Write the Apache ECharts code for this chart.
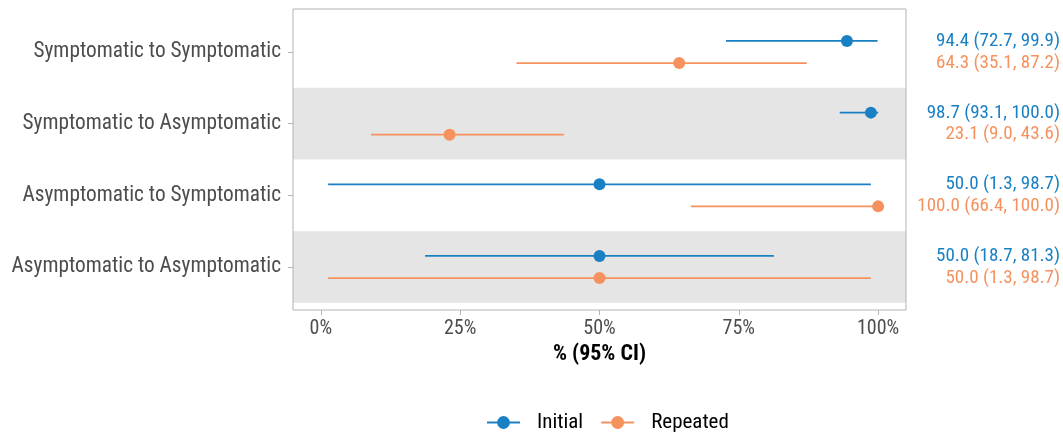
<!DOCTYPE html>
<html>
<head>
<meta charset="utf-8">
<script src="https://cdn.jsdelivr.net/npm/echarts@6/dist/echarts.min.js"></script>
<style>
  html, body { margin: 0; padding: 0; background: #fff; }
  #root { width: 1063px; height: 434px; }
</style>
</head>
<body>
<div id="root"></div>
<script>
// rows, top to bottom
const categories = ['Symptomatic to Symptomatic', 'Symptomatic to Asymptomatic', 'Asymptomatic to Symptomatic', 'Asymptomatic to Asymptomatic']
const initialEst = [94.4, 98.7, 50.0, 50.0]
const initialLow = [72.7, 93.1, 1.3, 18.7]
const initialHigh = [99.9, 100.0, 98.7, 81.3]
const repeatedEst = [64.3, 23.1, 100.0, 50.0]
const repeatedLow = [35.1, 9.0, 66.4, 1.3]
const repeatedHigh = [87.2, 43.6, 100.0, 98.7]
const xTicks = [0, 25, 50, 75, 100]

const BLUE = '#1a80c4'
const ORANGE = '#f5925e'
const FONT = "'Roboto Condensed', 'Liberation Sans Narrow', Roboto, sans-serif"
const DODGE = 0.154

const rowPos = categories.map((c, i) => i + 1)
const fmt = v => v.toFixed(1)

function ciData (low, high, shift) {
  return rowPos.map((p, i) => [low[i], high[i], p + shift])
}
function pointData (est, shift) {
  return rowPos.map((p, i) => [est[i], p + shift])
}
function ciSeries (name, color, data) {
  return {
    type: 'custom',
    name: name,
    z: 2,
    silent: true,
    itemStyle: { color: color },
    encode: { x: [0, 1], y: 2 },
    data: data,
    renderItem: function (params, api) {
      const y = api.value(2)
      const a = api.coord([api.value(0), y])
      const b = api.coord([api.value(1), y])
      return {
        type: 'line',
        shape: { x1: a[0], y1: a[1], x2: b[0], y2: b[1] },
        style: { stroke: color, lineWidth: 1.7 }
      }
    }
  }
}

const bands = []
rowPos.forEach((p, i) => {
  if (i % 2 === 1) bands.push([{ yAxis: p - 0.5 }, { yAxis: p + 0.5 }])
})

const chart = echarts.init(document.getElementById('root'))
const option = {
  animation: false,
  textStyle: { fontFamily: FONT },
  grid: {
    left: 293, right: 157, top: 9, bottom: 124,
    show: true, z: 10, backgroundColor: 'transparent',
    borderColor: '#b3b3b3', borderWidth: 1
  },
  legend: {
    left: 481, top: 407,
    itemWidth: 33, itemHeight: 16, itemGap: 17,
    data: ['Initial', 'Repeated'],
    lineStyle: { width: 2, opacity: 1 },
    itemStyle: { opacity: 1 },
    textStyle: { fontFamily: FONT, fontSize: 21, color: '#000', padding: [0, 0, 0, 12] }
  },
  xAxis: {
    type: 'value', min: -5, max: 105,
    splitLine: { show: false },
    axisLine: { show: false, onZero: false },
    axisTick: { show: true, length: 5, lineStyle: { color: '#b3b3b3' }, customValues: xTicks },
    axisLabel: { color: '#4d4d4d', fontSize: 20, margin: 9, customValues: xTicks, formatter: v => v + '%' },
    name: '% (95% CI)', nameLocation: 'middle', nameGap: 32,
    nameTextStyle: { color: '#000', fontWeight: 'bold', fontSize: 22, fontFamily: FONT }
  },
  yAxis: [{
    type: 'value', min: 0.4, max: 4.6, inverse: true, position: 'left',
    splitLine: { show: false },
    axisLine: { show: false, onZero: false },
    axisTick: { show: true, length: 5, lineStyle: { color: '#b3b3b3' }, customValues: rowPos },
    axisLabel: { color: '#4d4d4d', fontSize: 21.3, margin: 12, customValues: rowPos, formatter: v => categories[Math.round(v) - 1] }
  }, {
    type: 'value', min: 0.4, max: 4.6, inverse: true, position: 'right',
    splitLine: { show: false },
    axisLine: { show: false, onZero: false },
    axisTick: { show: false },
    axisLabel: {
      margin: 154, align: 'right', customValues: rowPos,
      formatter: function (v) {
        const i = Math.round(v) - 1
        return '{a|' + fmt(initialEst[i]) + ' (' + fmt(initialLow[i]) + ', ' + fmt(initialHigh[i]) + ')}\n' +
          '{b|' + fmt(repeatedEst[i]) + ' (' + fmt(repeatedLow[i]) + ', ' + fmt(repeatedHigh[i]) + ')}'
      },
      rich: {
        a: { color: BLUE, fontSize: 19, lineHeight: 21.5, fontFamily: FONT, align: 'right' },
        b: { color: ORANGE, fontSize: 19, lineHeight: 21.5, fontFamily: FONT, align: 'right' }
      }
    }
  }],
  series: [
    {
      type: 'custom', name: 'bands', data: [], z: 1, silent: true,
      renderItem: () => null,
      markArea: { silent: true, itemStyle: { color: '#e5e5e5' }, label: { show: false }, data: bands }
    },
    ciSeries('Initial CI', BLUE, ciData(initialLow, initialHigh, -DODGE)),
    ciSeries('Repeated CI', ORANGE, ciData(repeatedLow, repeatedHigh, DODGE)),
    {
      type: 'line', name: 'Initial', z: 3,
      data: pointData(initialEst, -DODGE),
      symbol: 'circle', symbolSize: 12,
      itemStyle: { color: BLUE },
      lineStyle: { color: BLUE, opacity: 0 }
    },
    {
      type: 'line', name: 'Repeated', z: 3,
      data: pointData(repeatedEst, DODGE),
      symbol: 'circle', symbolSize: 12,
      itemStyle: { color: ORANGE },
      lineStyle: { color: ORANGE, opacity: 0 }
    }
  ]
}
chart.setOption(option)
</script>
</body>
</html>
